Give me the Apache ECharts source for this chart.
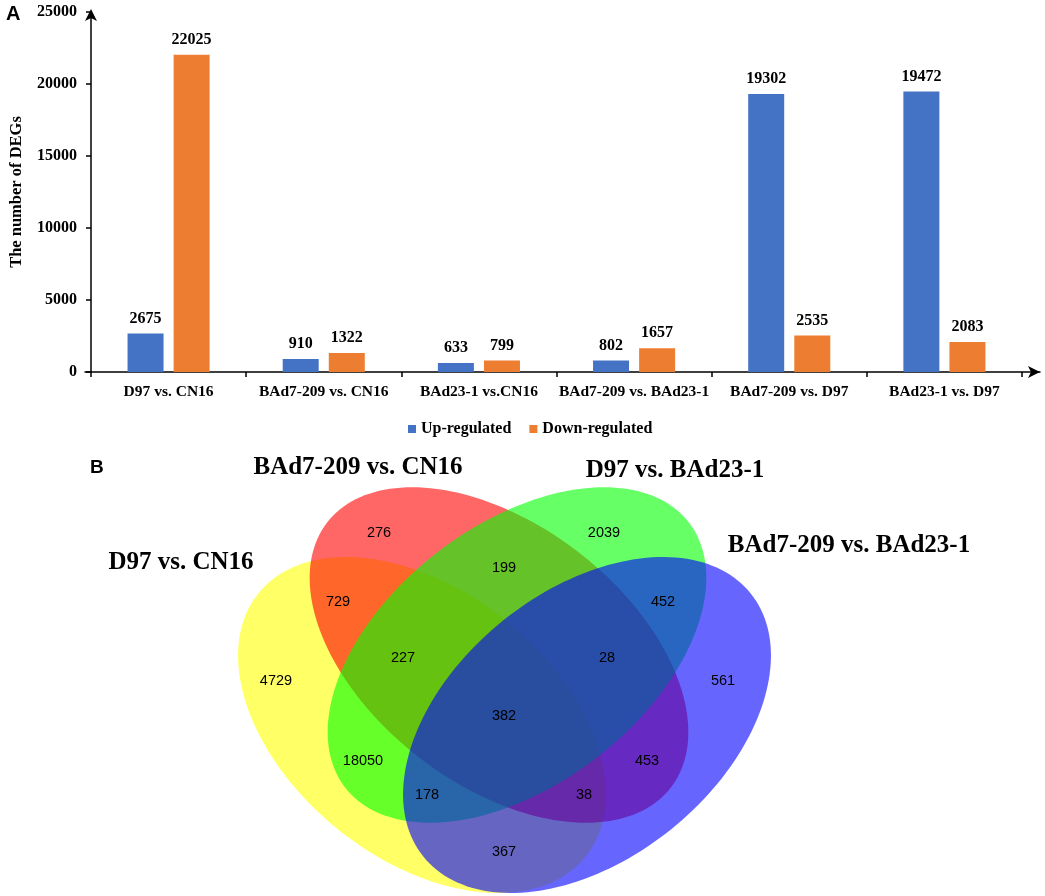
<!DOCTYPE html>
<html><head><meta charset="utf-8">
<script src="https://cdn.jsdelivr.net/npm/echarts@6/dist/echarts.min.js"></script>
<style>html,body{margin:0;padding:0;background:#fff}#c{width:1045px;height:896px}</style>
</head><body><div id="c"></div>
<script>
// ---------- Panel A data ----------
const categories = ['D97 vs. CN16', 'BAd7-209 vs. CN16', 'BAd23-1 vs.CN16', 'BAd7-209 vs. BAd23-1', 'BAd7-209 vs. D97', 'BAd23-1 vs. D97'];
const upRegulated = [2675, 910, 633, 802, 19302, 19472];
const downRegulated = [22025, 1322, 799, 1657, 2535, 2083];
const seriesNames = ['Up-regulated', 'Down-regulated'];
const yMin = 0, yMax = 25000, yStep = 5000;

// ---------- Panel B data ----------
const vennSetNames = ['D97 vs. CN16', 'BAd7-209 vs. CN16', 'D97 vs. BAd23-1', 'BAd7-209 vs. BAd23-1'];
const vennCounts = [4729, 276, 2039, 561, 729, 199, 452, 367, 227, 28, 18050, 453, 178, 38, 382];

// ---------- Layout (positions / sizes / styles, not data) ----------
// Venn frame: local units = pixels inside grid (left 80, top 440)
const vennEllipses = [ // order: yellow, red, green, blue
  { cx: 342, cy: 285, a: 210, b: 134, rot: -38.8, fill: 'rgba(255,255,0,0.6)' },
  { cx: 419, cy: 215, a: 217, b: 130, rot: -37.6, fill: 'rgba(255,0,0,0.6)' },
  { cx: 437, cy: 215, a: 217, b: 130, rot: 37.6, fill: 'rgba(0,255,0,0.6)' },
  { cx: 507, cy: 285, a: 210, b: 134, rot: 38.8, fill: 'rgba(0,0,255,0.6)' }
];
const vennCountPos = [[196,241],[299,93],[524,93],[643,241],[258,162],[424,128],[583,162],[424,412],[323,218],[527,218],[283,321],[567,321],[347,355],[504,355],[424,276]];
const vennTitlePos = [[101,123],[278,28],[595,31],[769,106]];

const serif = '"Liberation Serif","Times New Roman",serif';
const sans = '"Liberation Sans",Arial,sans-serif';

const chart = echarts.init(document.getElementById('c'), null, { renderer: 'canvas' });

const option = {
  animation: false,
  backgroundColor: '#fff',
  color: ['#4472C4', '#ED7D31'],
  legend: {
    data: seriesNames,
    left: 403, top: 416,
    itemWidth: 8, itemHeight: 8, itemGap: 18,
    icon: 'rect',
    textStyle: { fontFamily: serif, fontWeight: 'bold', fontSize: 16, color: '#000' }
  },
  grid: [
    { left: 85, right: 23, top: 12, bottom: 524, containLabel: false },
    { left: 85, right: 5, top: 12, bottom: 524, containLabel: false },
    { left: 80, top: 440, width: 900, height: 456, containLabel: false }
  ],
  xAxis: [
    {
      type: 'category', gridIndex: 0, data: categories,
      axisLine: { show: false },
      axisTick: { show: true, length: 5, alignWithLabel: false, lineStyle: { color: '#000', width: 1.5 } },
      axisLabel: { interval: 0, margin: 12, color: '#000', fontFamily: serif, fontWeight: 'bold', fontSize: 15.5 }
    },
    {
      type: 'value', gridIndex: 1, min: 0, max: 1,
      axisLine: { show: true, symbol: ['none', 'arrow'], symbolSize: [9, 12], lineStyle: { color: '#000', width: 1.5 } },
      axisTick: { show: false }, axisLabel: { show: false }, splitLine: { show: false }
    },
    { type: 'value', gridIndex: 2, min: 0, max: 900, show: false }
  ],
  yAxis: [
    {
      type: 'value', gridIndex: 0, min: yMin, max: yMax, interval: yStep,
      name: 'The number of DEGs', nameLocation: 'middle', nameGap: 66,
      nameTextStyle: { fontFamily: serif, fontWeight: 'bold', fontSize: 16.5, color: '#000' },
      axisLine: { show: true, symbol: ['none', 'arrow'], symbolSize: [9, 12], symbolOffset: [0, 3], lineStyle: { color: '#000', width: 1.5 } },
      axisTick: { show: true, length: 5, lineStyle: { color: '#000', width: 1.5 } },
      axisLabel: { margin: 14, color: '#000', fontFamily: serif, fontWeight: 'bold', fontSize: 16, formatter: v => String(v) },
      splitLine: { show: false }
    },
    { type: 'value', gridIndex: 1, min: 0, max: 1, show: false },
    { type: 'value', gridIndex: 2, min: 0, max: 456, inverse: true, show: false }
  ],
  series: [
    {
      name: seriesNames[0], type: 'bar', xAxisIndex: 0, yAxisIndex: 0,
      data: upRegulated, barWidth: 36, barGap: '28%',
      label: { show: true, position: 'top', distance: 7, color: '#000', fontFamily: serif, fontWeight: 'bold', fontSize: 16 }
    },
    {
      name: seriesNames[1], type: 'bar', xAxisIndex: 0, yAxisIndex: 0,
      data: downRegulated, barWidth: 36, barGap: '28%',
      label: { show: true, position: 'top', distance: 7, color: '#000', fontFamily: serif, fontWeight: 'bold', fontSize: 16 }
    },
    {
      type: 'custom', xAxisIndex: 2, yAxisIndex: 2, silent: true, clip: false, z: 1,
      data: vennEllipses.map((e, i) => [e.cx, e.cy, i]),
      renderItem: function (params, api) {
        const e = vennEllipses[api.value(2)];
        const r = e.rot * Math.PI / 180, c = Math.cos(r), s = Math.sin(r);
        const pts = [];
        const N = 180;
        for (let k = 0; k < N; k++) {
          const t = 2 * Math.PI * k / N;
          const x = e.cx + e.a * c * Math.cos(t) - e.b * s * Math.sin(t);
          const y = e.cy - (e.a * s * Math.cos(t) + e.b * c * Math.sin(t));
          pts.push(api.coord([x, y]));
        }
        return { type: 'polygon', shape: { points: pts }, style: { fill: e.fill, stroke: null } };
      }
    },
    {
      type: 'scatter', xAxisIndex: 2, yAxisIndex: 2, silent: true, z: 5, symbolSize: 0,
      itemStyle: { color: 'transparent', opacity: 1 },
      data: vennCounts.map((v, i) => [vennCountPos[i][0], vennCountPos[i][1], v]),
      label: { show: true, position: 'inside', formatter: p => String(p.value[2]), color: '#000', textBorderWidth: 0, fontFamily: sans, fontSize: 14.5 }
    },
    {
      type: 'scatter', xAxisIndex: 2, yAxisIndex: 2, silent: true, z: 5, symbolSize: 0, clip: false,
      itemStyle: { color: 'transparent', opacity: 1 },
      data: vennSetNames.map((n, i) => ({ name: n, value: [vennTitlePos[i][0], vennTitlePos[i][1]] })),
      label: { show: true, position: 'inside', formatter: p => p.name, color: '#000', textBorderWidth: 0, fontFamily: serif, fontWeight: 'bold', fontSize: 25 }
    }
  ],
  graphic: [
    { type: 'text', left: 6, top: 4, style: { text: 'A', font: 'bold 20px "Liberation Sans", Arial, sans-serif', fill: '#000' } },
    { type: 'text', left: 90, top: 458, style: { text: 'B', font: 'bold 19px "Liberation Sans", Arial, sans-serif', fill: '#000' } }
  ]
};
chart.setOption(option);
</script>
</body></html>
